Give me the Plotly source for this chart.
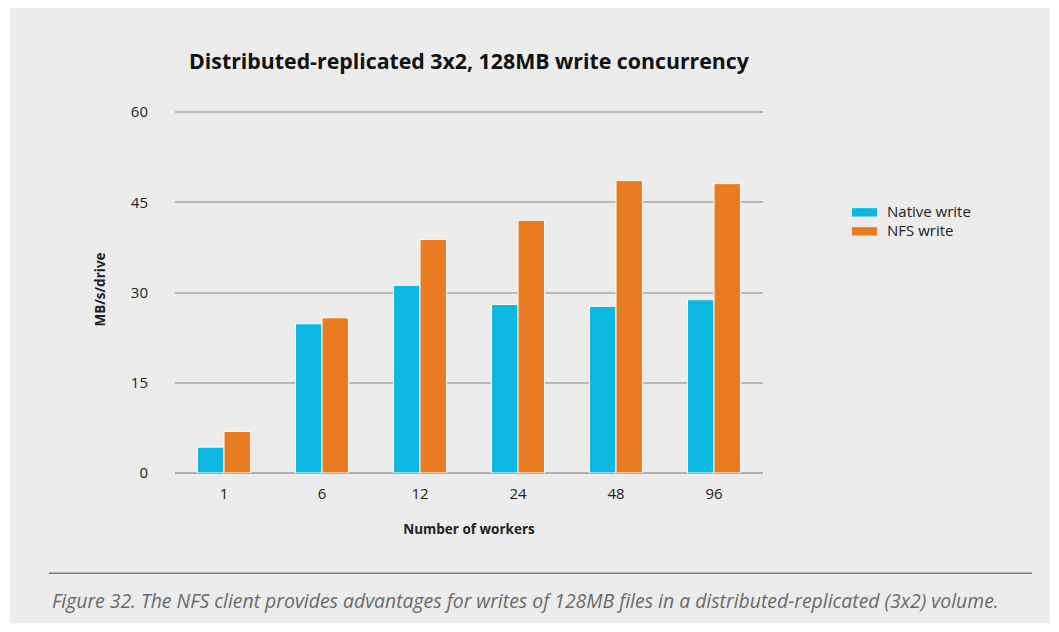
import plotly.graph_objects as go

workers = ["1", "6", "12", "24", "48", "96"]
native_write = [4.3, 24.8, 31.2, 28.0, 27.7, 28.8]
nfs_write = [6.9, 25.8, 38.8, 42.0, 48.6, 48.1]
series_names = ["Native write", "NFS write"]
series_colors = ["#0bb8e2", "#e97c23"]

# the page puts the figure 8px in from the corner, so work in shifted pixels
OFF = 8
W, H = 1059 - 2 * OFF, 632 - 2 * OFF
L, R, T, B = 175 - OFF, 763 - OFF, 106 - OFF, 473.5 - OFF


def px(x):
    return (x - OFF - L) / (R - L)


def py(y):
    return (B - (y - OFF)) / (B - T)


fig = go.Figure()
for name, vals, col in zip(series_names, [native_write, nfs_write], series_colors):
    fig.add_bar(x=workers, y=vals, name=name, showlegend=False,
                marker=dict(color=col, line=dict(color="white", width=1)))

font = "Open Sans"
fig.update_layout(
    width=W, height=H,
    margin=dict(l=L, r=W - R, t=T, b=H - B, autoexpand=False),
    paper_bgcolor="white",
    plot_bgcolor="rgba(0,0,0,0)",
    barmode="group",
    bargap=0.46,
    bargroupgap=0.0,
    font=dict(family=font, color="#222", size=15),
    title=dict(text="<b>Distributed-replicated 3x2, 128MB write concurrency</b>",
               x=px(469), xref="paper", xanchor="center",
               y=1 - (62 - OFF) / H, yanchor="middle",
               font=dict(size=21.3, color="#111")),
    xaxis=dict(showgrid=False, showline=False, ticks="",
               tickfont=dict(size=15), ticklabelstandoff=10,
               title=dict(text="<b>Number of workers</b>", font=dict(size=13.5),
                          standoff=22)),
    yaxis=dict(range=[0, 61], tickvals=[0, 15, 30, 45, 60],
               showgrid=True, gridcolor="#b9b9b9", gridwidth=2,
               zeroline=True, zerolinecolor="#b0b0b0", zerolinewidth=2,
               showline=False, ticks="", ticklabelstandoff=26,
               tickfont=dict(size=15),
               title=dict(text="<b>MB/s/drive</b>", font=dict(size=13.5),
                          standoff=22)),
)

# grey panel behind chart
fig.add_shape(type="rect", xref="paper", yref="paper", layer="below",
              x0=px(10), x1=px(1050), y0=py(624), y1=py(8),
              fillcolor="#ececec", line=dict(width=0))

# legend
for i, (name, col) in enumerate(zip(series_names, series_colors)):
    yc = 212.5 + i * 19
    fig.add_shape(type="rect", xref="paper", yref="paper",
                  x0=px(852), x1=px(877), y0=py(yc + 4.2), y1=py(yc - 4.2),
                  fillcolor=col, line=dict(width=0))
    fig.add_annotation(text=name, xref="paper", yref="paper",
                       x=px(885), y=py(yc - 1), xanchor="left", yanchor="middle",
                       showarrow=False, font=dict(size=15, color="#222"))

# caption rule
fig.add_shape(type="line", xref="paper", yref="paper",
              x0=px(49), x1=px(1032), y0=py(574), y1=py(574),
              line=dict(color="#7a7a7a", width=1.5))
fig.add_annotation(
    text="<i>Figure 32. The NFS client provides advantages for writes of 128MB files in a distributed-replicated (3x2) volume.</i>",
    xref="paper", yref="paper", x=px(50), y=py(601), xanchor="left",
    yanchor="middle", showarrow=False,
    font=dict(family=font, size=19.4, color="#6a6a6a"))

fig.write_html("out.html")
